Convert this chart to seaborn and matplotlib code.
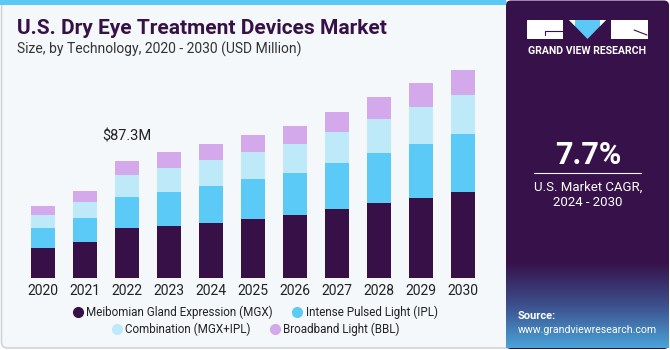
import matplotlib
matplotlib.use("Agg")
import matplotlib.pyplot as plt
import seaborn as sns
import numpy as np
import pandas as pd
from matplotlib.patches import Rectangle, Polygon, FancyBboxPatch
from matplotlib.lines import Line2D
from matplotlib.colors import LinearSegmentedColormap

years = ["2020", "2021", "2022", "2023", "2024", "2025", "2026", "2027", "2028", "2029", "2030"]
mgx = [22.3, 27.2, 37.1, 38.8, 41.3, 44.0, 47.0, 51.4, 55.7, 59.8, 64.3]
ipl = [14.8, 17.8, 23.5, 25.5, 27.2, 29.7, 31.2, 34.1, 37.3, 39.9, 42.8]
comb = [9.9, 11.9, 15.9, 17.8, 19.1, 20.0, 21.5, 23.2, 25.2, 27.2, 29.2]
bbl = [6.7, 7.7, 10.8, 11.4, 11.9, 12.4, 13.6, 14.6, 16.1, 17.8, 18.6]
series = ["Meibomian Gland Expression (MGX)", "Intense Pulsed Light (IPL)",
          "Combination (MGX+IPL)", "Broadband Light (BBL)"]
colors = ["#361046", "#5bcaf6", "#bde9f9", "#d3a9ec"]
annot_year = "2022"
annot_text = "$87.3M"

sns.set_theme(style="white")
plt.rcParams['font.family'] = ['Roboto', 'DejaVu Sans']

W, H = 670, 350
fig = plt.figure(figsize=(6.7, 3.5), dpi=100)
fig.patch.set_facecolor("white")

def px(x, y, w, h):
    return [x / W, 1 - (y + h) / H, w / W, h / H]

# background panel
bg = fig.add_axes([0, 0, 1, 1], zorder=-10)
bg.set_xlim(0, W); bg.set_ylim(H, 0); bg.axis("off")
bg.add_patch(FancyBboxPatch((1.5, 2), 520, H - 4, boxstyle="round,pad=0,rounding_size=6",
                            facecolor="#f4f8fb", edgecolor="#d0d4d8", lw=1.2))
bg.add_patch(Rectangle((0, 0), 506, 5, facecolor="#5bc8f5", edgecolor="none"))

df = pd.DataFrame({"year": years, "mgx": mgx, "ipl": ipl, "comb": comb, "bbl": bbl})
df["c1"] = df["mgx"]
df["c2"] = df["c1"] + df["ipl"]
df["c3"] = df["c2"] + df["comb"]
df["c4"] = df["c3"] + df["bbl"]

ax = fig.add_axes(px(21.8, 62.8, 462, 215.5))
ax.set_facecolor("none")
for col, c in zip(["c4", "c3", "c2", "c1"], colors[::-1]):
    sns.barplot(data=df, x="year", y=col, color=c, width=0.58, ax=ax,
                saturation=1, edgecolor=c, linewidth=0)
ax.set_xlim(-0.5, 10.5)
ax.set_ylim(0, 160)
ax.set_xlabel(""); ax.set_ylabel("")
ax.set_yticks([])
for s in ax.spines.values():
    s.set_visible(False)
ax.tick_params(axis="x", length=0, labelsize=10, colors="#222222", pad=4)

i = years.index(annot_year)
ax.text(i, df["c4"][i] + 18, annot_text, ha="center", va="center", fontsize=10.5, color="#222222")

# title
fig.text(17 / W, 1 - 29 / H, "U.S. Dry Eye Treatment Devices Market", fontsize=15,
         fontweight="bold", color="#361046", va="center", ha="left")
fig.text(17 / W, 1 - 49 / H, "Size, by Technology, 2020 - 2030 (USD Million)", fontsize=10,
         color="#333333", va="center", ha="left")

# legend
h = [Line2D([0], [0], marker="o", linestyle="", markersize=7, markerfacecolor=c,
            markeredgecolor=c) for c in colors]
for rows, yy in ((slice(0, 2), 312), (slice(2, 4), 329)):
    fig.legend(h[rows], series[rows], loc="center", bbox_to_anchor=(255 / W, 1 - yy / H),
               ncol=2, frameon=False, fontsize=8.4, handletextpad=0.2, columnspacing=1.6,
               handlelength=1.0, labelcolor="#222222", borderpad=0, borderaxespad=0)

# right panel
rp = fig.add_axes([0, 0, 1, 1], zorder=5)
rp.set_xlim(0, W); rp.set_ylim(H, 0); rp.axis("off")
rp.add_patch(FancyBboxPatch((506, 0.5), 163, H - 1.5, boxstyle="round,pad=0,rounding_size=5",
                            facecolor="#37114a", edgecolor="none"))
grad = np.linspace(0, 1, 100)[:, None]
cmap = LinearSegmentedColormap.from_list("g", ["#37114a", "#3c4f8c", "#4aa3d8"])
rp.imshow(grad, extent=(506, 669, 348, 262), cmap=cmap, aspect="auto", zorder=1,
          origin="upper")
# logo
rp.add_patch(Rectangle((527, 20), 36, 19, facecolor="white", edgecolor="none", zorder=3))
rp.plot([545, 563], [31, 31], color="#37114a", lw=0.8, zorder=4)
rp.plot([545, 545], [31, 35], color="#37114a", lw=0.8, zorder=4)
rp.add_patch(Polygon([(569, 20), (606, 20), (587.5, 39)], closed=True, facecolor="#5bc8f5",
                     edgecolor="none", zorder=3))
rp.add_patch(Polygon([(569, 20), (575, 20), (575, 26)], closed=True, facecolor="white",
                     edgecolor="none", zorder=4))
rp.add_patch(Polygon([(600, 20), (606, 20), (600, 26)], closed=True, facecolor="white",
                     edgecolor="none", zorder=4))
rp.add_patch(Rectangle((611, 20), 36.5, 19, facecolor="white", edgecolor="none", zorder=3))
rp.plot([634, 647], [30, 35], color="#37114a", lw=0.8, zorder=4)
rp.text(587.5, 51, "GRAND VIEW RESEARCH", color="white", fontsize=7.6, fontweight="bold",
        ha="center", va="center", zorder=4)
rp.text(588, 155, "7.7%", color="white", fontsize=22, fontweight="bold", ha="center",
        va="center", zorder=4)
rp.plot([534, 641], [173, 173], color="white", lw=0.8, zorder=4)
rp.text(588, 187, "U.S. Market CAGR,", color="white", fontsize=9.5, ha="center",
        va="center", zorder=4)
rp.text(588, 202, "2024 - 2030", color="white", fontsize=9.5, ha="center", va="center",
        zorder=4)
rp.text(518, 316, "Source:", color="white", fontsize=8, fontweight="bold", ha="left",
        va="center", zorder=4)
rp.text(518, 330, "www.grandviewresearch.com", color="white", fontsize=7.6, ha="left",
        va="center", zorder=4)

fig.savefig("out.png", dpi=100, facecolor=fig.get_facecolor())
